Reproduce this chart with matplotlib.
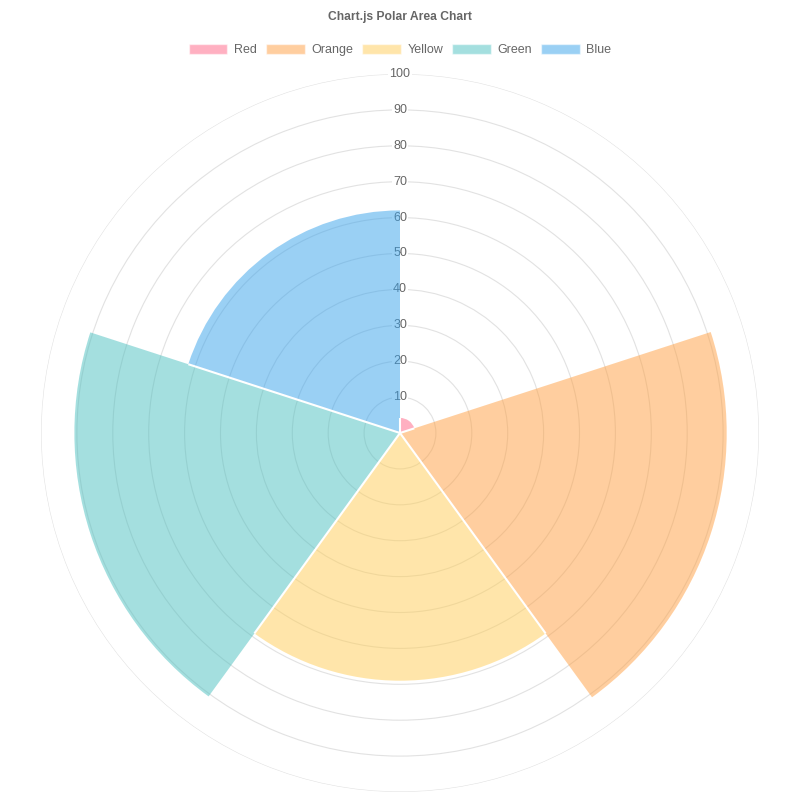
import matplotlib
matplotlib.use('Agg')
import matplotlib.pyplot as plt
import numpy as np
from matplotlib.patches import Patch

plt.rcParams['font.family'] = ['Liberation Sans', 'DejaVu Sans']

# Data
labels = ['Red', 'Orange', 'Yellow', 'Green', 'Blue']
values = [4.2, 91, 69, 90.7, 62]
colors = ['#ff6384', '#ff9f40', '#ffcd56', '#4bc0c0', '#36a2eb']
ring_ticks = [10, 20, 30, 40, 50, 60, 70, 80, 90, 100]

fig = plt.figure(figsize=(8, 8), dpi=100)
ax = fig.add_axes([41 / 800, 8 / 800, 718 / 800, 718 / 800], projection='polar')
ax.set_theta_zero_location('N')
ax.set_theta_direction(-1)
ax.set_ylim(0, 100)

n = len(values)
width = 2 * np.pi / n
theta = np.arange(n) * width
ax.bar(theta, values, width=width, align='edge', color=colors, alpha=0.5,
       edgecolor='none', zorder=2)

# white separators where neighbouring segments meet
for i in range(n):
    r_edge = min(values[i], values[i - 1])
    ax.plot([theta[i], theta[i]], [0, r_edge], color='white', linewidth=1.5,
            solid_capstyle='butt', zorder=3)

# grid
ax.set_axisbelow(True)
ax.set_yticks(ring_ticks)
ax.set_yticklabels([])
ax.set_xticks([])
ax.yaxis.grid(True, color='#e2e2e2', linewidth=0.8)
ax.xaxis.grid(False)
ax.spines['polar'].set_visible(False)

for t in ring_ticks:
    ax.text(0, t, str(t), ha='center', va='center', fontsize=9, color='#666666',
            zorder=1, bbox=dict(facecolor='white', edgecolor='none', pad=1))

fig.text(0.5, 1 - 17 / 800, 'Chart.js Polar Area Chart', ha='center', va='center',
         fontsize=8.7, fontweight='bold', color='#666666')

handles = [Patch(facecolor=c, alpha=0.5, edgecolor='white') for c in colors]
leg = fig.legend(handles, labels, loc='center', bbox_to_anchor=(0.5, 1 - 50 / 800),
                 ncol=5, frameon=False, fontsize=9, handlelength=3.1, handleheight=0.8,
                 handletextpad=0.5, columnspacing=0.75)
for txt in leg.get_texts():
    txt.set_color('#666666')

fig.savefig('out.png', dpi=100)
